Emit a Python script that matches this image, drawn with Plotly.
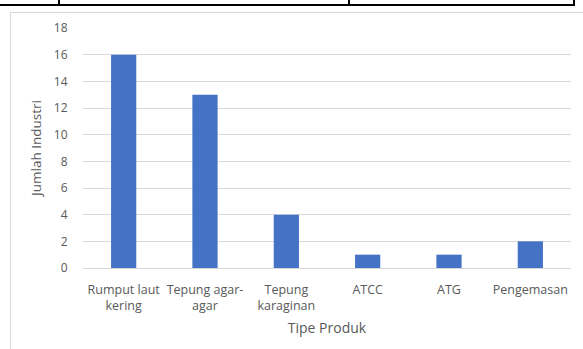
import plotly.graph_objects as go

# Jumlah industri per tipe produk rumput laut
categories = ["Rumput laut<br>kering", "Tepung agar-<br>agar", "Tepung<br>karaginan",
              "ATCC", "ATG", "Pengemasan"]
counts = [16, 13, 4, 1, 1, 2]
y_ticks = [0, 2, 4, 6, 8, 10, 12, 14, 16, 18]

W, H = 583, 349
L, R, T, B = 83, 12, 28, 81
pw, ph = W - L - R, H - T - B


def px(x):
    return (x - L) / pw


def py(y):
    return (H - B - y) / ph


FONT = "Open Sans"
GREY = "#595959"

fig = go.Figure(go.Bar(
    x=categories, y=counts, marker=dict(color="#4472C4", line=dict(width=0)),
    width=0.31,
))

shapes = [
    # chart frame
    dict(type="line", xref="paper", yref="paper", x0=px(10.5), x1=px(W + 5),
         y0=py(12.5), y1=py(12.5), line=dict(color="#d9d9d9", width=1)),
    dict(type="line", xref="paper", yref="paper", x0=px(10.5), x1=px(10.5),
         y0=py(12.5), y1=py(H + 5), line=dict(color="#d9d9d9", width=1)),
    # surrounding table borders
    dict(type="line", xref="paper", yref="paper", x0=px(-2), x1=px(575),
         y0=py(5), y1=py(5), line=dict(color="black", width=2)),
]
for vx in [59, 349, 574]:
    shapes.append(dict(type="line", xref="paper", yref="paper", x0=px(vx), x1=px(vx),
                       y0=py(-5), y1=py(5), line=dict(color="black", width=2)))

fig.update_layout(
    width=W, height=H,
    margin=dict(l=L, r=R, t=T, b=B),
    paper_bgcolor="white", plot_bgcolor="white",
    showlegend=False,
    font=dict(family=FONT, size=12, color=GREY),
    xaxis=dict(
        title=dict(text="Tipe Produk", font=dict(size=14, color=GREY), standoff=10),
        showgrid=False, showline=False, ticks="", ticklabelstandoff=12,
        tickfont=dict(size=12.5, color=GREY),
    ),
    yaxis=dict(
        title=dict(text="Jumlah Industri", font=dict(size=13.5, color=GREY), standoff=9),
        range=[0, 18], tickvals=y_ticks, showgrid=True, gridcolor="#d9d9d9", gridwidth=1,
        zeroline=True, zerolinecolor="#d9d9d9", zerolinewidth=1, showline=False,
        ticks="outside", ticklen=12, tickcolor="white", tickfont=dict(size=12, color=GREY),
    ),
    shapes=shapes,
)

fig.write_html("out.html")
